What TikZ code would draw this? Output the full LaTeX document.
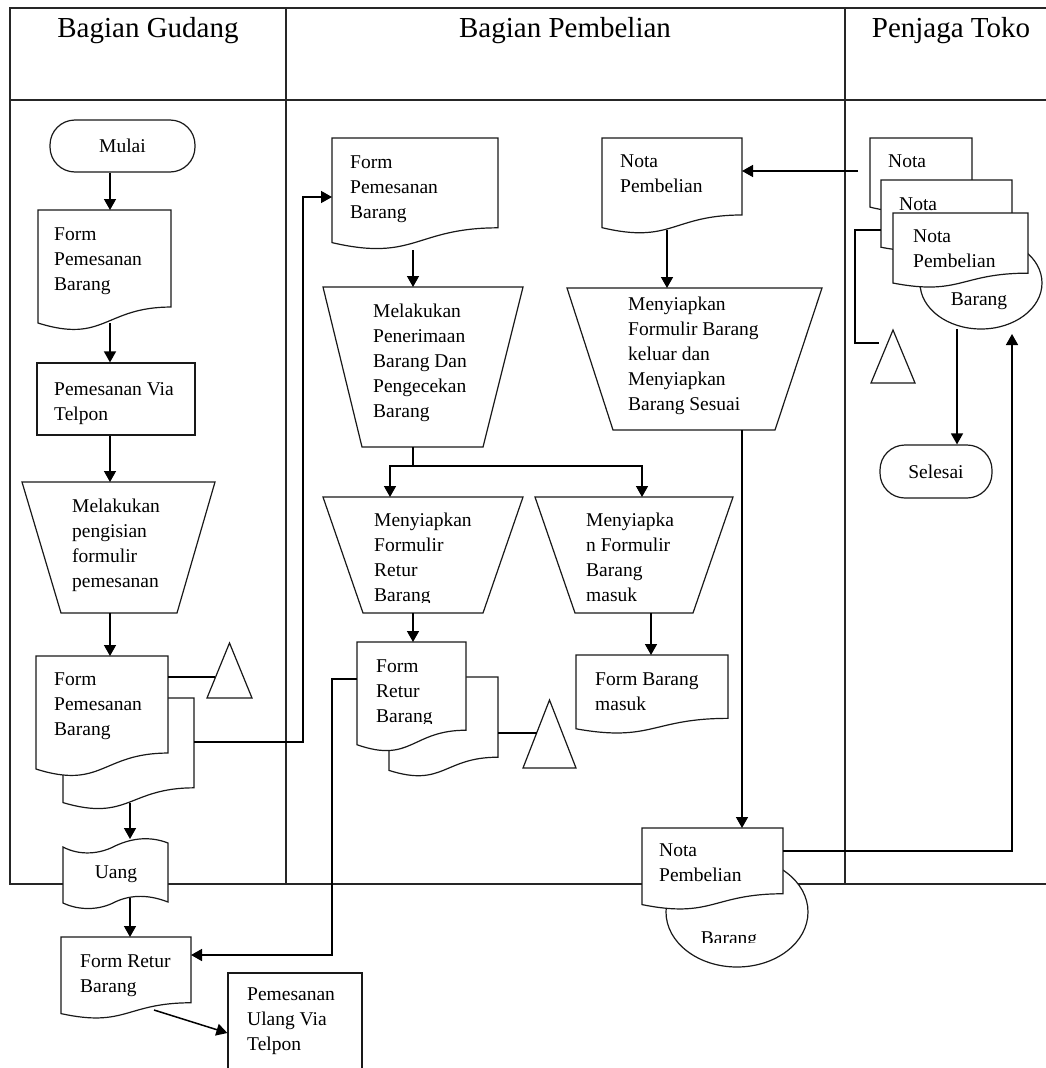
\documentclass[tikz,border=0pt]{standalone}
\usepackage{fontspec}
\setmainfont{Liberation Serif}
\usetikzlibrary{arrows.meta,calc}

\tikzset{
  outline/.style={draw=black!90, line width=1.2pt, fill=white, line join=miter},
  lane/.style={draw=black!85, line width=1.6pt},
  flow/.style={draw=black, line width=1.5pt, -{Triangle[length=11pt,width=12pt]}},
  link/.style={draw=black, line width=1.3pt},
  frame/.style={draw=none, inner sep=0pt, outer sep=0pt},
  body/.style={anchor=north west, inner sep=0pt, align=left, font=\fontsize{19.5}{25}\selectfont},
  single/.style={anchor=base, inner sep=0pt, font=\fontsize{19.5}{25}\selectfont},
  heading/.style={anchor=base, inner sep=0pt, font=\fontsize{29}{34}\selectfont},
  terminal/.style={draw=black!90, line width=1.2pt, fill=white, rounded corners=25pt,
    inner sep=0pt, font=\fontsize{19.5}{25}\selectfont},
  process/.style={draw=black!90, line width=1.2pt, fill=white, inner sep=0pt},
}

% document sheet with a wavy lower edge: name, left, top, right, bottom of its frame
\newcommand\sheet[5]{%
  \path[outline] (#2,#3) -- (#4,#3) -- (#4,{#3+0.802*(#5-#3)})
    .. controls ({(#2+#4)/2},{#3+0.802*(#5-#3)}) and ({(#2+#4)/2},{#3+1.107*(#5-#3)})
    .. (#2,{#3+0.934*(#5-#3)}) -- cycle;
  \node[frame, minimum width={#4-#2}, minimum height={#5-#3}] (#1) at ({(#2+#4)/2},{(#3+#5)/2}) {};}

% manual operation: name, top y, top-left x, top-right x, bottom y, bottom-left x, bottom-right x
\newcommand\manual[7]{%
  \path[outline] (#3,#2) -- (#4,#2) -- (#7,#5) -- (#6,#5) -- cycle;
  \node[frame, minimum width={#4-#3}, minimum height={#5-#2}] (#1) at ({(#3+#4)/2},{(#2+#5)/2}) {};}

% offline storage: name, apex x, apex y, base y, half width of base
\newcommand\store[5]{%
  \path[outline] (#2,#3) -- ({#2+#5},#4) -- ({#2-#5},#4) -- cycle;
  \coordinate (#1) at (#2,#3);}

% left aligned label: name, left x, baseline of first line, lines
\newcommand\words[4]{\node[body] (#1) at (#2,{#3-14}) {\rule{0pt}{14pt}#4};}

\begin{document}
\begin{tikzpicture}[x=1pt,y=-1pt]
\clip (0,0) rectangle (1046,1068);
\fill[white] (0,0) rectangle (1046,1068);

% swimlanes
\draw[lane] (1046,8) -- (10,8) -- (10,884) -- (1046,884);
\draw[lane] (10,100) -- (1046,100);
\draw[lane] (286,8) -- (286,884);
\draw[lane] (845,8) -- (845,884);
\node[heading] (hGudang) at (148,37) {Bagian Gudang};
\node[heading] (hBeli) at (565,37) {Bagian Pembelian};
\node[heading] (hToko) at (951,37) {Penjaga Toko};

% ---- Bagian Gudang ----
\node[terminal, minimum width=145pt, minimum height=52pt] (mulai) at (122.5,146) {Mulai};
\sheet{formA}{38}{210}{171}{331}
\words{tFormA}{54}{240}{Form\\Pemesanan\\Barang}
\node[process, minimum width=158pt, minimum height=72pt] (telpon) at (116,399) {};
\words{tTelpon}{54}{395}{Pemesanan Via\\Telpon}
\manual{isi}{482}{22}{215}{613}{61}{177}
\words{tIsi}{72}{512}{Melakukan\\pengisian\\formulir\\pemesanan}
\sheet{formBback}{63}{698}{194}{810}
\sheet{formB}{36}{656}{168}{777}
\words{tFormB}{54}{685}{Form\\Pemesanan\\Barang}
\store{triA}{229.5}{643}{698}{22.5}

\path[outline] (63,847) .. controls (80,856) and (100,854) .. (115,846)
  .. controls (132,838) and (150,836) .. (168,843) -- (168,902)
  .. controls (150,895) and (132,894) .. (115,902)
  .. controls (100,910) and (80,911) .. (63,903) -- cycle;
\node[frame, minimum width=105pt, minimum height=63pt] (uang) at (115.5,870.5) {};
\node[single] (tUang) at (116,878) {Uang};

\sheet{returA}{61}{937}{191}{1019}
\words{tReturA}{80}{967}{Form Retur\\Barang}
\node[process, minimum width=134pt, minimum height=107pt] (ulang) at (295,1026.5) {};
\words{tUlang}{247}{1000}{Pemesanan\\Ulang Via\\Telpon}

% ---- Bagian Pembelian ----
\sheet{formC}{332}{138}{498}{250}
\words{tFormC}{350}{168}{Form\\Pemesanan\\Barang}
\manual{terima}{287}{323}{523}{447}{362}{483}
\words{tTerima}{373}{317}{Melakukan\\Penerimaan\\Barang Dan\\Pengecekan\\Barang}
\manual{returPrep}{497}{323}{523}{613}{363}{483}
\begin{scope}
  \clip (330,500) rectangle (520,602);
  \words{tReturPrep}{374}{526}{Menyiapkan\\Formulir\\Retur\\Barang}
\end{scope}
\manual{masukPrep}{497}{535}{733}{613}{575}{693}
\words{tMasukPrep}{586}{526}{Menyiapka\\n Formulir\\Barang\\masuk}
\sheet{returBback}{389}{677}{498}{777}
\sheet{returB}{357}{642}{466}{752}
\begin{scope}
  \clip (360,645) rectangle (464,723);
  \words{tReturB}{376}{672}{Form\\Retur\\Barang}
\end{scope}
\store{triB}{549.5}{700}{768}{26.5}
\sheet{masuk}{576}{655}{728}{734}
\words{tMasuk}{595}{685}{Form Barang\\masuk}
\sheet{notaA}{602}{138}{742}{234}
\words{tNotaA}{620}{167}{Nota\\Pembelian}
\manual{keluar}{288}{567}{822}{430}{613}{775}
\words{tKeluar}{628}{310}{Menyiapkan\\Formulir Barang\\keluar dan\\Menyiapkan\\Barang Sesuai}

\path[outline] (737,912) ellipse [x radius=71pt, y radius=55pt];
\node[frame, minimum width=142pt, minimum height=110pt] (barangB) at (737,912) {};
\sheet{notaB}{642}{828}{783}{910}
\words{tNotaB}{659}{856}{Nota\\Pembelian}
\begin{scope}
  \clip (680,915) rectangle (790,942);
  \node[single] (tBarangB) at (729,944) {Barang};
\end{scope}

% ---- Penjaga Toko ----
\sheet{n1}{870}{138}{972}{212}
\words{tN1}{888}{167}{Nota}
\sheet{n2}{881}{180}{1012}{252}
\words{tN2}{899}{210}{Nota}
\path[outline] (981,283) ellipse [x radius=61pt, y radius=46pt];
\node[frame, minimum width=122pt, minimum height=92pt] (barangC) at (981,283) {};
\sheet{n3}{893}{213}{1028}{288}
\words{tN3}{913}{242}{Nota\\Pembelian}
\node[single] (tBarangC) at (979,305) {Barang};
\store{triC}{893}{330}{383}{22}
\node[terminal, minimum width=112pt, minimum height=53pt] (selesai) at (936,471.5) {Selesai};

% ---- connectors ----
\draw[flow] ([xshift=-12.5pt]mulai.south) -- ([xshift=5.5pt]formA.north);
\draw[flow] ([xshift=5.5pt,yshift=8pt]formA.south) -- ([xshift=-6pt]telpon.north);
\draw[flow] ([xshift=-6pt]telpon.south) -- ([xshift=-8.5pt]isi.north);
\draw[flow] ([xshift=-8.5pt]isi.south) -- ([xshift=8pt]formB.north);
\draw[link] ([yshift=39.5pt]formB.east) -- ++(47,0);
\draw[flow] ([xshift=1.5pt,yshift=7pt]formBback.south) -- ([xshift=14.5pt]uang.north);
\draw[flow] ([xshift=14.5pt,yshift=4pt]uang.south) -- ([xshift=4pt]returA.north);
\draw[flow] ([xshift=28pt,yshift=9pt]returA.south) -- ([yshift=-6.5pt]ulang.west);
\draw[flow] ([yshift=12pt]formBback.east) -- ++(109,0) |- ([yshift=-3pt]formC.west);

\draw[flow] ([xshift=-2pt]formC.south) -- ([xshift=-10pt]terima.north);
\coordinate (split) at (413,466);
\draw[link] ([xshift=-10pt]terima.south) -- (split);
\draw[flow] (split) -| ([xshift=-33pt]returPrep.north);
\draw[flow] (split) -| ([xshift=8pt]masukPrep.north);
\draw[flow] ([xshift=-10pt]returPrep.south) -- ([xshift=1.5pt]returB.north);
\draw[flow] ([xshift=17pt]masukPrep.south) -- ([xshift=-1pt]masuk.north);
\draw[link] ([yshift=-6pt]returBback.east) -- ++(39,0);
\draw[flow] ([yshift=18pt]returB.west) -- ++(-25,0) |- ([yshift=23pt]returA.east);

\draw[flow] ([xshift=-12pt,yshift=4pt]n1.west) -- ([yshift=15pt]notaA.east);
\draw[flow] ([xshift=-5pt,yshift=4pt]notaA.south) -- ([xshift=-27.5pt]keluar.north);
\draw[flow] ([xshift=47.5pt]keluar.south) -- ([xshift=29.5pt]notaB.north);
\draw[flow] ([yshift=18pt]notaB.east) -| ([xshift=31pt,yshift=-5pt]barangC.south);
\draw[flow] ([xshift=-24pt]barangC.south) -- ([xshift=21pt]selesai.north);
\draw[link] ([yshift=-14pt]n2.west) -- ++(-26,0) -- ++(0,113) -- ++(24,0);
\end{tikzpicture}
\end{document}
